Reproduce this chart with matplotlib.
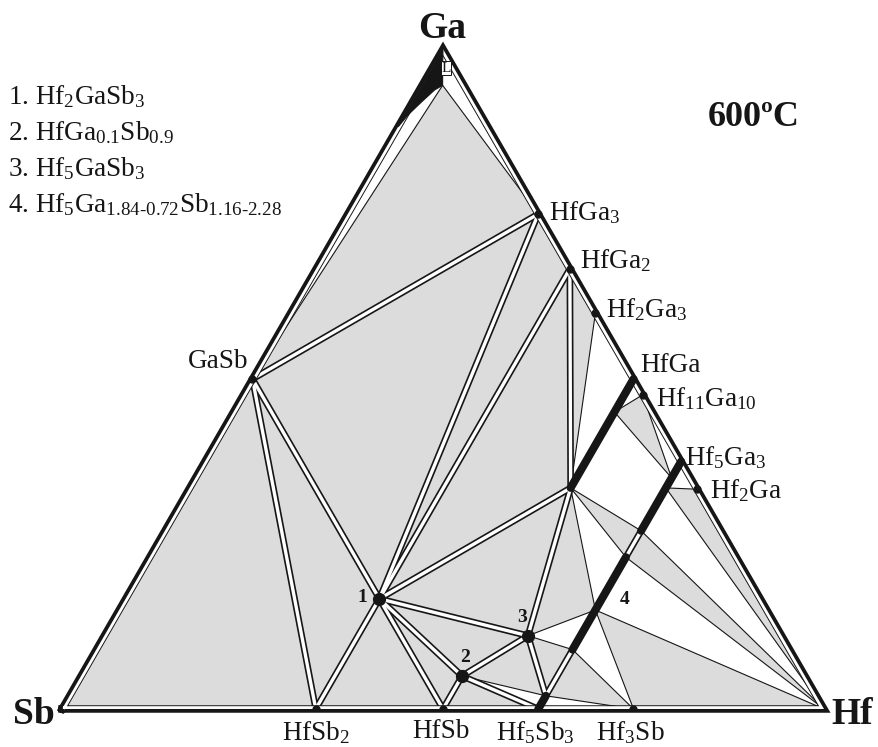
import numpy as np
import matplotlib
matplotlib.use('Agg')
import matplotlib.pyplot as plt
from matplotlib.patches import Polygon

plt.rcParams['font.family'] = ['Liberation Serif', 'DejaVu Serif']
plt.rcParams['mathtext.fontset'] = 'custom'
plt.rcParams['mathtext.rm'] = 'Liberation Serif'
plt.rcParams['mathtext.it'] = 'Liberation Serif:italic'
plt.rcParams['mathtext.bf'] = 'Liberation Serif:bold'

# compositions in at.% Hf and at.% Ga (Sb = rest)
names = ['Ga', 'Sb', 'Hf', 'L', 'GaSb', 'HfGa3', 'HfGa2', 'Hf2Ga3',
         'HfGa', 'HfGa_45', 'HfGa_b', 'Hf11Ga10',
         'Hf5Ga3', 'Hf5Ga3_35', 'Hf5Ga3_33', 'Hf5Ga3_b', 'Hf2Ga',
         'ph4_a', 'ph4_m', 'ph4_b', 'Hf5Sb3_a', 'Hf5Sb3',
         'Hf3Sb', 'HfSb', 'HfSb2', '1', '2', '3']
hf = [0, 0, 100, 2.7, 0, 25, 33.3, 40,
      50, 50, 50, 52.4,
      62.5, 62.5, 62.5, 62.5, 66.7,
      62.5, 62.5, 62.5, 62.5, 62.5,
      75, 50, 33.3, 33.3, 50, 55.6]
ga = [100, 0, 0, 94.5, 50, 75, 66.7, 60,
      50, 45, 33.5, 47.6,
      37.5, 35, 33.5, 27, 33.3,
      23, 15, 9, 2, 0,
      0, 0, 0, 16.7, 5, 11.1]

# liquid region near the Ga corner
liquid_hf = [0, 0, 0.4, 1.2, 2.0, 2.7, 1.2]
liquid_ga = [100, 88.2, 90.0, 92.0, 93.8, 94.5, 97.5]

# three-phase fields
three_phase = [
    ('L', 'GaSb', 'HfGa3'), ('GaSb', 'HfGa3', '1'), ('HfGa3', 'HfGa2', '1'),
    ('HfGa2', '1', 'HfGa_b'), ('HfGa2', 'Hf2Ga3', 'HfGa_b'),
    ('HfGa_45', 'Hf11Ga10', 'Hf5Ga3_35'), ('HfGa_b', 'Hf5Ga3_b', 'ph4_a'),
    ('Hf5Ga3_33', 'Hf2Ga', 'Hf'), ('Hf5Ga3_b', 'ph4_a', 'Hf'),
    ('ph4_m', 'Hf3Sb', 'Hf'), ('ph4_b', 'Hf5Sb3_a', 'Hf3Sb'),
    ('3', 'ph4_b', 'Hf5Sb3_a'), ('2', '3', 'Hf5Sb3_a'), ('HfSb', '2', 'Hf5Sb3'),
    ('1', 'HfSb', '2'), ('1', '2', '3'), ('1', '3', 'HfGa_b'),
    ('HfGa_b', 'ph4_m', '3'), ('HfSb2', '1', 'HfSb'), ('GaSb', 'HfSb2', '1'),
    ('Sb', 'GaSb', 'HfSb2'),
]

# narrow two-phase fields (drawn as double lines)
two_phase = [
    ('GaSb', 'HfGa3'), ('GaSb', '1'), ('HfGa3', '1'), ('HfGa2', '1'),
    ('HfGa2', 'HfGa_b'), ('1', 'HfGa_b'), ('GaSb', 'HfSb2'), ('HfSb2', '1'),
    ('1', 'HfSb'), ('1', '2'), ('HfSb', '2'), ('1', '3'), ('2', '3'),
    ('3', 'HfGa_b'), ('2', 'Hf5Sb3'), ('3', 'Hf5Sb3_a'),
    ('ph4_b', 'Hf5Sb3_a'), ('Hf5Ga3_b', 'ph4_a'),
]

thin_lines = [('Hf11Ga10', 'Hf5Ga3'), ('HfGa', 'Hf11Ga10'), ('Hf5Ga3', 'Hf2Ga')]

# solid solutions
solid_sol = [('HfGa', 'HfGa_b'), ('Hf5Ga3', 'Hf5Ga3_b'),
             ('ph4_a', 'ph4_b'), ('Hf5Sb3_a', 'Hf5Sb3')]

small_dots = ['GaSb', 'HfGa3', 'HfGa2', 'Hf2Ga3', 'Hf11Ga10', 'Hf2Ga',
              'HfSb2', 'HfSb', 'Hf3Sb']
big_dots = ['1', '2', '3']

# phase labels: (text, phase, dx px, dy px, ha)
phase_labels = [
    ('GaSb', 'GaSb', -4, 17, 'right'),
    (r'$\mathregular{HfGa_3}$', 'HfGa3', 11, 1, 'left'),
    (r'$\mathregular{HfGa_2}$', 'HfGa2', 10, 8, 'left'),
    (r'$\mathregular{Hf_2Ga_3}$', 'Hf2Ga3', 11, 3, 'left'),
    ('HfGa', 'HfGa', 7, 13, 'left'),
    (r'$\mathregular{Hf_{11}Ga_{10}}$', 'Hf11Ga10', 13, -4, 'left'),
    (r'$\mathregular{Hf_5Ga_3}$', 'Hf5Ga3', 4, 4, 'left'),
    (r'$\mathregular{Hf_2Ga}$', 'Hf2Ga', 13, -1, 'left'),
    (r'$\mathregular{HfSb_2}$', 'HfSb2', 0, -24, 'center'),
    ('HfSb', 'HfSb', -2, -22, 'center'),
    (r'$\mathregular{Hf_5Sb_3}$', 'Hf5Sb3', -3, -24, 'center'),
    (r'$\mathregular{Hf_3Sb}$', 'Hf3Sb', -3, -24, 'center'),
]
number_labels = [('1', '1', -17, 1), ('2', '2', 3, 18), ('3', '3', -6, 18), ('4', 'ph4_m', 29, 11)]
corner_labels = [('Ga', 'Ga', -1, 20), ('Sb', 'Sb', -28, -6), ('Hf', 'Hf', 28, -6)]

legend = [r'1. $\mathregular{Hf_2GaSb_3}$',
          r'2. $\mathregular{HfGa_{0.1}Sb_{0.9}}$',
          r'3. $\mathregular{Hf_5GaSb_3}$',
          '4. $\\mathregular{Hf_5Ga_{1.84\u20100.72}Sb_{1.16\u20102.28}}$']

H = np.sqrt(3) / 2


def xy(key):
    i = names.index(key)
    h, g = hf[i] / 100, ga[i] / 100
    return h + g / 2, g * H


def seg(a, b):
    pa, pb = xy(a), xy(b)
    return [pa[0], pb[0]], [pa[1], pb[1]]


fig = plt.figure(figsize=(8.79, 7.47), dpi=100)
ax = fig.add_axes([62 / 879, 38 / 747, 762 / 879, 660 / 747])
ax.set_xlim(0, 1)
ax.set_ylim(0, H)
ax.axis('off')

ink = '#161616'
grey = '#dcdcdc'
for tri in three_phase:
    ax.add_patch(Polygon([xy(k) for k in tri], closed=True, facecolor=grey,
                         edgecolor=ink, lw=0.8, joinstyle='miter', zorder=1))

for a, b in thin_lines:
    x, y = seg(a, b)
    ax.plot(x, y, color=ink, lw=0.8, zorder=2)

# double lines: all black first, then white centres
for a, b in two_phase:
    x, y = seg(a, b)
    ax.plot(x, y, color=ink, lw=4.8, solid_capstyle='butt', zorder=3)
for a, b in two_phase:
    x, y = seg(a, b)
    ax.plot(x, y, color='white', lw=2.4, solid_capstyle='butt', zorder=4)

# outer border: thick black, white strip, thin inner line
corners = np.array([xy('Sb'), xy('Hf'), xy('Ga'), xy('Sb')])
ax.plot(corners[:, 0], corners[:, 1], color=ink, lw=5.4,
        solid_joinstyle='miter', clip_on=False, zorder=5)
cen = corners[:3].mean(axis=0)
inner = cen + (corners - cen) * (1 - 1.4 / 220)
ax.plot(inner[:, 0], inner[:, 1], color='white', lw=2.0,
        solid_joinstyle='miter', clip_on=False, zorder=6)

# liquid near Ga
lq = [((h + g / 2) / 100, g / 100 * H) for h, g in zip(liquid_hf, liquid_ga)]
ax.add_patch(Polygon(lq, closed=True, facecolor=ink, edgecolor=ink,
                     lw=0.8, zorder=7, clip_on=False))

for a, b in solid_sol:
    x, y = seg(a, b)
    ax.plot(x, y, color=ink, lw=5.8, solid_capstyle='round', zorder=8)

for k in small_dots:
    px, py = xy(k)
    ax.plot(px, py, 'o', color=ink, ms=5, zorder=9)
for k in big_dots:
    px, py = xy(k)
    ax.plot(px, py, 'o', color=ink, ms=8.5, zorder=9)

k = 0.72  # px -> pt
for txt, key, dx, dy, ha in phase_labels:
    ax.annotate(txt, xy(key), xytext=(dx * k, dy * k), textcoords='offset points',
                ha=ha, va='center', fontsize=19.5, color=ink, zorder=10,
                annotation_clip=False)
for txt, key, dx, dy in number_labels:
    ax.annotate(txt, xy(key), xytext=(dx * k, dy * k), textcoords='offset points',
                ha='center', va='center', fontsize=14, fontweight='bold',
                color=ink, zorder=10, annotation_clip=False)
for txt, key, dx, dy in corner_labels:
    ax.annotate(txt, xy(key), xytext=(dx * k, dy * k), textcoords='offset points',
                ha='center', va='center', fontsize=27, fontweight='bold',
                color=ink, zorder=10, annotation_clip=False)

# L box at the Ga corner
ax.annotate('L', xy('Ga'), xytext=(3 * k, -19 * k), textcoords='offset points',
            ha='center', va='center', fontsize=11, color=ink, zorder=11,
            annotation_clip=False,
            bbox=dict(boxstyle='square,pad=0.05', fc='white', ec=ink, lw=0.7))

for i, t in enumerate(legend):
    fig.text(8 / 879, 1 - (97 + 36 * i) / 747, t, ha='left', va='center',
             fontsize=19.5, color=ink)

fig.text(754 / 879, 1 - 118 / 747, '600ºC', ha='center', va='center',
         fontsize=26, fontweight='bold', color=ink)

fig.savefig('out.png', dpi=100, facecolor='white')
